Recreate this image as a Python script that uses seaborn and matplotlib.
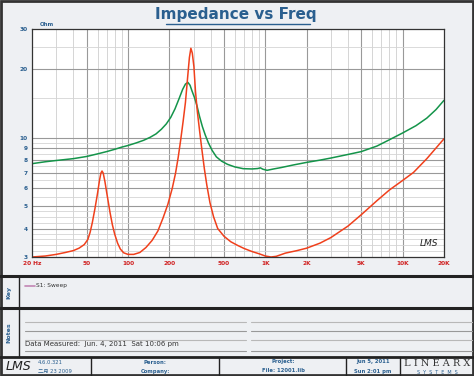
import matplotlib
matplotlib.use("Agg")
import matplotlib.pyplot as plt
import seaborn as sns
import pandas as pd
from matplotlib.lines import Line2D
from matplotlib.patches import Rectangle

# red trace (impedance, ohm)
red_freq = [20, 25, 30, 35, 40, 44, 48, 51, 53, 55, 57.5, 60, 62, 63.5, 64.7, 66, 68,
            70.5, 74, 77, 80, 84, 88, 93, 100, 110, 122, 135, 150, 165, 180, 195, 210,
            222, 232, 242, 252, 262, 272, 280, 287, 294, 302, 310, 320, 333, 345, 360,
            375, 395, 420, 450, 500, 560, 630, 700, 800, 900, 1000, 1100, 1200, 1400,
            1700, 2000, 2500, 3000, 4000, 5000, 6500, 8000, 10000, 12000, 15000, 20000]
red_ohm = [3.0, 3.03, 3.08, 3.14, 3.2, 3.28, 3.4, 3.58, 3.85, 4.25, 4.9, 5.7, 6.5, 7.0,
           7.15, 7.0, 6.4, 5.6, 4.7, 4.15, 3.78, 3.45, 3.25, 3.13, 3.08, 3.08, 3.14, 3.3,
           3.55, 3.9, 4.45, 5.1, 6.0, 7.0, 8.2, 9.8, 11.8, 14.3, 18.5, 22.5, 24.7, 23.5,
           20.5, 16.0, 13.0, 10.6, 8.9, 7.3, 6.2, 5.2, 4.5, 4.0, 3.7, 3.5, 3.37, 3.27,
           3.17, 3.1, 3.03, 3.0, 3.02, 3.12, 3.2, 3.28, 3.45, 3.65, 4.1, 4.6, 5.3, 5.9,
           6.5, 7.05, 8.1, 9.9]

# green trace
green_freq = [20, 25, 30, 40, 50, 60, 70, 80, 90, 100, 115, 130, 145, 160, 175, 190,
              205, 220, 235, 250, 262, 273, 283, 293, 305, 318, 332, 348, 365, 385, 410,
              440, 480, 530, 600, 690, 800, 880, 920, 960, 1030, 1150, 1300, 1600, 2000,
              2500, 3000, 4000, 5000, 6500, 8000, 10000, 12500, 15000, 17500, 20000]
green_ohm = [7.7, 7.85, 7.95, 8.1, 8.28, 8.5, 8.7, 8.9, 9.1, 9.25, 9.5, 9.75, 10.05,
             10.4, 10.9, 11.5, 12.3, 13.4, 14.8, 16.3, 17.2, 17.5, 17.0, 16.0, 15.0,
             13.8, 12.4, 11.2, 10.3, 9.5, 8.8, 8.25, 7.9, 7.65, 7.45, 7.32, 7.3, 7.33,
             7.38, 7.28, 7.2, 7.3, 7.4, 7.6, 7.8, 7.98, 8.15, 8.45, 8.7, 9.2, 9.8, 10.5,
             11.3, 12.2, 13.3, 14.6]

x_ticks = [20, 50, 100, 200, 500, 1000, 2000, 5000, 10000, 20000]
x_labels = ["20 Hz", "50", "100", "200", "500", "1K", "2K", "5K", "10K", "20K"]
y_ticks = [3, 4, 5, 6, 7, 8, 9, 10, 20, 30]
y_labels = ["3", "4", "5", "6", "7", "8", "9", "10", "20", "30"]

sns.set_theme(style="white")
plt.rcParams['font.family'] = ['DejaVu Sans', 'Noto Sans CJK SC']

W, H = 474, 376
bg = '#eef0f3'
blue = '#2a5f8f'
fig = plt.figure(figsize=(4.74, 3.76), dpi=100, facecolor=bg)


def fx(x):
    return x / W


def fy(y):
    return 1 - y / H


def hline(y, x0, x1, color='#222222', lw=1.5):
    fig.add_artist(Line2D([fx(x0), fx(x1)], [fy(y), fy(y)], color=color, lw=lw))


def vline(x, y0, y1, color='#222222', lw=1.0):
    fig.add_artist(Line2D([fx(x), fx(x)], [fy(y0), fy(y1)], color=color, lw=lw))


# outer border
fig.add_artist(Rectangle((0.003, 0.003), 0.994, 0.994, transform=fig.transFigure,
                         fill=False, ec='#333333', lw=2))

ax = fig.add_axes([fx(32), fy(257), fx(444) - fx(32), fy(29) - fy(257)])
ax.set_facecolor('white')

df_red = pd.DataFrame({'freq': red_freq, 'ohm': red_ohm})
df_green = pd.DataFrame({'freq': green_freq, 'ohm': green_ohm})
sns.lineplot(data=df_green, x='freq', y='ohm', ax=ax, color='#14944a', lw=1.1)
sns.lineplot(data=df_red, x='freq', y='ohm', ax=ax, color='#f0401c', lw=1.1)

ax.set_xscale('log')
ax.set_yscale('log')
ax.set_xlim(20, 20000)
ax.set_ylim(3, 30)

# grid lines
minor_x = [m * d for d in (10, 100, 1000, 10000) for m in range(1, 10)]
for f in minor_x:
    if 20 < f < 20000 and f not in x_ticks:
        ax.axvline(f, color='#cfcfcf', lw=0.6, zorder=0)
for f in x_ticks[1:-1]:
    ax.axvline(f, color='#999999', lw=0.8, zorder=0)
for z in [3.2, 3.4, 3.6, 3.8, 4.25, 4.5, 4.75, 5.5, 6.5, 7.5, 8.5, 9.5, 15, 25]:
    ax.axhline(z, color='#d4d4d4', lw=0.6, zorder=0)
for z in y_ticks[1:-1]:
    ax.axhline(z, color='#999999', lw=0.8, zorder=0)

ax.set_xticks(x_ticks)
ax.set_xticklabels(x_labels)
ax.set_yticks(y_ticks)
ax.set_yticklabels(y_labels)
ax.minorticks_off()
ax.tick_params(axis='x', colors='#d02020', labelsize=4.2, length=0, pad=3)
ax.tick_params(axis='y', colors=blue, labelsize=4.2, length=0, pad=3)
for lab in ax.get_xticklabels() + ax.get_yticklabels():
    lab.set_fontweight('bold')
ax.set_xlabel('')
ax.set_ylabel('')
for s in ax.spines.values():
    s.set_color('#333333')
    s.set_linewidth(0.9)
ax.text(0.02, 1.01, 'Ohm', transform=ax.transAxes, fontsize=4, color=blue,
        fontweight='bold', va='bottom')
ax.text(0.985, 0.04, 'LMS', transform=ax.transAxes, fontsize=6.5, style='italic',
        color='#222222', ha='right', va='bottom')

# title
fig.text(fx(236), fy(15), 'Impedance vs Freq', ha='center', va='center',
         fontsize=11, fontweight='bold', color=blue)
hline(23.5, 166, 310, color=blue, lw=1.0)

# key panel
hline(276, 0, W, lw=2.2)
hline(308, 0, W, lw=2.2)
vline(19, 276, 357)
fig.text(fx(9), fy(292), 'Key', rotation=90, ha='center', va='center',
         fontsize=4.5, color=blue, fontweight='bold')
fig.add_artist(Line2D([fx(25), fx(35)], [fy(286), fy(286)], color='#c286b4', lw=1.2))
fig.text(fx(36), fy(286), 'S1: Sweep', ha='left', va='center', fontsize=4.2,
         color='#333333')

# notes panel
fig.text(fx(9), fy(333), 'Notes', rotation=90, ha='center', va='center',
         fontsize=4.5, color=blue, fontweight='bold')
for y, c in [(322, '#b8b8b8'), (331, '#999999'), (340, '#b8b8b8'), (351, '#999999')]:
    hline(y, 25, 246, color=c, lw=0.8)
    hline(y, 251, 472, color=c, lw=0.8)
fig.text(fx(25), fy(347), 'Data Measured:  Jun. 4, 2011  Sat 10:06 pm', ha='left',
         va='bottom', fontsize=5, color='#333333')

# footer
hline(357, 0, W, lw=2.0)
for x in (91, 219, 346, 400):
    vline(x, 357, 376)
fig.text(fx(6), fy(367), 'LMS', fontsize=9, style='italic', color='#222222',
         va='center', ha='left')
fig.text(fx(38), fy(362), '4.6.0.321', fontsize=3.8, color=blue, va='center')
fig.text(fx(38), fy(371), '二月 23 2009', fontsize=3.8, color=blue, va='center')
fig.text(fx(155), fy(362), 'Person:', fontsize=3.8, color=blue, va='center',
         ha='center', fontweight='bold')
fig.text(fx(155), fy(371), 'Company:', fontsize=3.8, color=blue, va='center',
         ha='center', fontweight='bold')
fig.text(fx(283), fy(362), 'Project:', fontsize=3.8, color=blue, va='center',
         ha='center', fontweight='bold')
fig.text(fx(283), fy(371), 'File: 12001.lib', fontsize=3.8, color=blue, va='center',
         ha='center', fontweight='bold')
fig.text(fx(373), fy(362), 'Jun 5, 2011', fontsize=3.8, color=blue, va='center',
         ha='center', fontweight='bold')
fig.text(fx(373), fy(371), 'Sun 2:01 pm', fontsize=3.8, color=blue, va='center',
         ha='center', fontweight='bold')
fig.text(fx(437), fy(364), 'L I N E A R X', fontsize=7, color='#333333',
         va='center', ha='center', family='serif')
fig.text(fx(437), fy(372), 'S  Y  S  T  E  M  S', fontsize=3.5, color=blue,
         va='center', ha='center')

fig.savefig('out.png', dpi=100, facecolor=bg)
